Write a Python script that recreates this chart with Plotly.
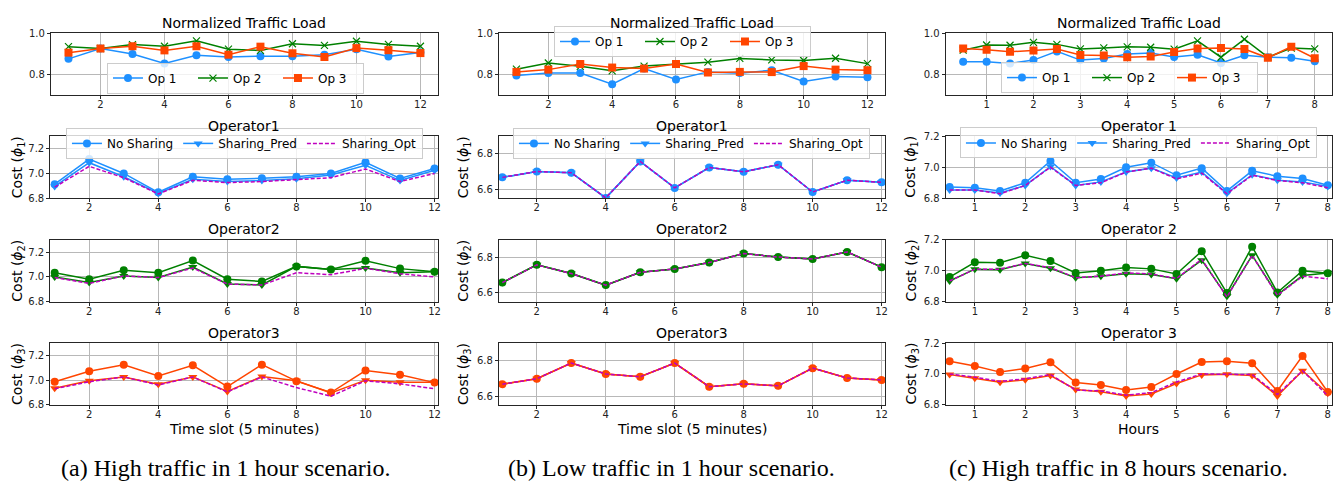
import plotly.graph_objects as go

W, H = 1342, 485

# ---------------- data ----------------
x_a = [1, 2, 3, 4, 5, 6, 7, 8, 9, 10, 11, 12]
x_b = [1, 2, 3, 4, 5, 6, 7, 8, 9, 10, 11, 12]
x_c = [0.5, 1, 1.5, 2, 2.5, 3, 3.5, 4, 4.5, 5, 5.5, 6, 6.5, 7, 7.5, 8]

# (a) High traffic in 1 hour
a_load_op1 = [0.875, 0.925, 0.898, 0.853, 0.892, 0.884, 0.888, 0.888, 0.895, 0.922, 0.886, 0.906]
a_load_op2 = [0.934, 0.925, 0.944, 0.936, 0.962, 0.922, 0.916, 0.948, 0.940, 0.960, 0.945, 0.936]
a_load_op3 = [0.905, 0.925, 0.936, 0.916, 0.936, 0.895, 0.934, 0.902, 0.884, 0.927, 0.917, 0.903]

a_op1_nosh = [6.914, 7.115, 7.000, 6.849, 6.974, 6.953, 6.961, 6.974, 7.000, 7.090, 6.960, 7.040]
a_op1_pred = [6.896, 7.086, 6.974, 6.840, 6.953, 6.935, 6.943, 6.958, 6.987, 7.065, 6.943, 7.026]
a_op1_opt = [6.890, 7.057, 6.966, 6.836, 6.945, 6.927, 6.935, 6.948, 6.966, 7.036, 6.935, 7.000]

a_op2_nosh = [7.034, 6.982, 7.054, 7.034, 7.132, 6.982, 6.964, 7.085, 7.060, 7.130, 7.067, 7.041]
a_op2_pred = [7.000, 6.956, 7.008, 6.995, 7.080, 6.943, 6.935, 7.085, 7.060, 7.072, 7.034, 7.041]
a_op2_opt = [6.995, 6.948, 7.008, 6.995, 7.072, 6.943, 6.935, 7.034, 7.018, 7.070, 7.026, 7.000]

a_op3_nosh = [6.987, 7.072, 7.125, 7.033, 7.120, 6.948, 7.125, 6.992, 6.900, 7.078, 7.044, 6.980]
a_op3_pred = [6.935, 6.995, 7.026, 6.966, 7.026, 6.909, 7.030, 6.995, 6.896, 7.000, 6.982, 6.982]
a_op3_opt = [6.930, 6.987, 7.026, 6.961, 7.026, 6.905, 7.026, 6.940, 6.870, 6.995, 6.970, 6.930]

# (b) Low traffic in 1 hour
b_load_op1 = [0.794, 0.806, 0.806, 0.752, 0.828, 0.775, 0.812, 0.806, 0.820, 0.766, 0.790, 0.786]
b_load_op2 = [0.825, 0.855, 0.839, 0.817, 0.840, 0.848, 0.859, 0.877, 0.870, 0.867, 0.878, 0.852]
b_load_op3 = [0.812, 0.823, 0.850, 0.833, 0.828, 0.850, 0.809, 0.812, 0.811, 0.840, 0.823, 0.820]

b_op1_nosh = [6.668, 6.701, 6.694, 6.553, 6.757, 6.609, 6.723, 6.699, 6.739, 6.586, 6.652, 6.640]
b_op1_pred = [6.668, 6.701, 6.694, 6.553, 6.757, 6.609, 6.723, 6.699, 6.739, 6.586, 6.652, 6.640]
b_op1_opt = [6.668, 6.701, 6.694, 6.553, 6.757, 6.609, 6.723, 6.699, 6.739, 6.586, 6.652, 6.640]

b_op2_nosh = [6.658, 6.758, 6.709, 6.644, 6.716, 6.735, 6.771, 6.822, 6.802, 6.791, 6.831, 6.745]
b_op2_pred = [6.658, 6.758, 6.709, 6.644, 6.716, 6.735, 6.771, 6.822, 6.802, 6.791, 6.831, 6.745]
b_op2_opt = [6.658, 6.758, 6.709, 6.644, 6.716, 6.735, 6.771, 6.822, 6.802, 6.791, 6.831, 6.745]

b_op3_nosh = [6.667, 6.698, 6.787, 6.725, 6.709, 6.787, 6.653, 6.669, 6.658, 6.758, 6.702, 6.691]
b_op3_pred = [6.667, 6.698, 6.787, 6.725, 6.709, 6.787, 6.653, 6.669, 6.658, 6.758, 6.702, 6.691]
b_op3_opt = [6.667, 6.698, 6.787, 6.725, 6.709, 6.787, 6.653, 6.669, 6.658, 6.758, 6.702, 6.691]

# (c) High traffic in 8 hours
c_load_op1 = [0.861, 0.861, 0.853, 0.869, 0.911, 0.869, 0.877, 0.898, 0.903, 0.884, 0.895, 0.855, 0.892, 0.883, 0.880, 0.864]
c_load_op2 = [0.917, 0.942, 0.941, 0.955, 0.945, 0.923, 0.928, 0.933, 0.931, 0.922, 0.962, 0.883, 0.970, 0.883, 0.927, 0.923]
c_load_op3 = [0.925, 0.919, 0.909, 0.916, 0.923, 0.894, 0.891, 0.883, 0.886, 0.908, 0.925, 0.927, 0.923, 0.880, 0.934, 0.878]

c_op1_nosh = [6.873, 6.869, 6.848, 6.900, 7.040, 6.900, 6.925, 7.000, 7.029, 6.948, 6.994, 6.848, 6.977, 6.942, 6.927, 6.885]
c_op1_pred = [6.854, 6.854, 6.835, 6.883, 7.004, 6.883, 6.906, 6.969, 6.994, 6.931, 6.969, 6.833, 6.952, 6.917, 6.906, 6.877]
c_op1_opt = [6.854, 6.854, 6.830, 6.883, 7.000, 6.883, 6.900, 6.969, 6.994, 6.925, 6.962, 6.830, 6.948, 6.915, 6.900, 6.869]

c_op2_nosh = [6.959, 7.054, 7.052, 7.099, 7.062, 6.986, 7.000, 7.021, 7.012, 6.979, 7.126, 6.856, 7.155, 6.860, 7.000, 6.984]
c_op2_pred = [6.934, 7.010, 7.006, 7.047, 7.016, 6.955, 6.965, 6.981, 6.975, 6.948, 7.068, 6.835, 7.099, 6.845, 6.969, 6.986]
c_op2_opt = [6.934, 7.010, 7.010, 7.047, 7.020, 6.955, 6.965, 6.986, 6.979, 6.950, 7.074, 6.831, 7.099, 6.841, 6.965, 6.948]

c_op3_nosh = [7.083, 7.052, 7.012, 7.035, 7.075, 6.944, 6.929, 6.896, 6.915, 7.000, 7.077, 7.083, 7.069, 6.890, 7.117, 6.883]
c_op3_pred = [6.996, 6.973, 6.946, 6.963, 6.990, 6.900, 6.885, 6.858, 6.871, 6.938, 6.994, 6.998, 6.990, 6.858, 7.021, 6.875]
c_op3_opt = [7.000, 6.979, 6.952, 6.969, 6.996, 6.896, 6.890, 6.863, 6.879, 6.948, 7.000, 7.000, 6.996, 6.867, 7.021, 6.858]

load_names = ["Op 1", "Op 2", "Op 3"]
cost_names = ["No Sharing", "Sharing_Pred", "Sharing_Opt"]
row_titles = [
    ["Normalized Traffic Load", "Operator1", "Operator2", "Operator3"],
    ["Normalized Traffic Load", "Operator1", "Operator2", "Operator3"],
    ["Normalized Traffic Load", "Operator 1", "Operator 2", "Operator 3"],
]
x_titles = ["Time slot (5 minutes)", "Time slot (5 minutes)", "Hours"]
captions = ["(a) High traffic in 1 hour scenario.",
            "(b) Low traffic in 1 hour scenario.",
            "(c) High traffic in 8 hours scenario."]
y_titles = ["Cost (<i>ϕ</i><sub>1</sub>)", "Cost (<i>ϕ</i><sub>2</sub>)", "Cost (<i>ϕ</i><sub>3</sub>)"]

xs = [x_a, x_b, x_c]
loads = [[a_load_op1, a_load_op2, a_load_op3],
         [b_load_op1, b_load_op2, b_load_op3],
         [c_load_op1, c_load_op2, c_load_op3]]
costs = [
    [[a_op1_nosh, a_op1_pred, a_op1_opt], [a_op2_nosh, a_op2_pred, a_op2_opt], [a_op3_nosh, a_op3_pred, a_op3_opt]],
    [[b_op1_nosh, b_op1_pred, b_op1_opt], [b_op2_nosh, b_op2_pred, b_op2_opt], [b_op3_nosh, b_op3_pred, b_op3_opt]],
    [[c_op1_nosh, c_op1_pred, c_op1_opt], [c_op2_nosh, c_op2_pred, c_op2_opt], [c_op3_nosh, c_op3_pred, c_op3_opt]],
]

# ---------------- styling / geometry ----------------
BLUE, GREEN, ORANGE, MAGENTA = "#1E90FF", "#008000", "#FF4500", "#BF00BF"
op_colors = [BLUE, GREEN, ORANGE]
FONT = "DejaVu Sans"
FRAME = "#262626"
GRID = "#b8b8b8"

col_px_row1 = [[51, 439], [500, 887], [947.7, 1335.3]]
col_px_rest = [[50.3, 439], [500, 887], [947.7, 1335.3]]
row_px = [[27.7, 91.3], [133.3, 197.3], [239.6, 303.3], [345.6, 409]]

x_range_row1 = [[0.45, 12.55], [0.45, 12.55], [0.125, 8.375]]
x_range_rest = [[0.87, 12.1], [0.9, 12.1], [0.42, 8.09]]
x_ticks = [[2, 4, 6, 8, 10, 12], [2, 4, 6, 8, 10, 12], [1, 2, 3, 4, 5, 6, 7, 8]]
y_range_rest = [[6.8, 7.3], [6.55, 6.9], [6.8, 7.2]]


def fx(p):
    return p / W


def fy(p):
    return 1 - p / H


fig = go.Figure()
layout = dict(
    width=W, height=H, margin=dict(l=0, r=0, t=0, b=0),
    paper_bgcolor="white", plot_bgcolor="white",
    font=dict(family=FONT, size=10, color="#222"),
    showlegend=True,
)
annotations = []

for r in range(4):
    for c in range(3):
        k = r * 3 + c + 1
        xp = col_px_row1[c] if r == 0 else col_px_rest[c]
        yp = row_px[r]
        xr = x_range_row1[c] if r == 0 else x_range_rest[c]
        if r == 0:
            yr, ytv = [0.7, 1.0], [0.8, 1.0]
        else:
            yr = y_range_rest[c]
            ytv = [6.6, 6.8] if c == 1 else [6.8, 7.0, 7.2]
        common = dict(showline=True, mirror=True, linecolor=FRAME, linewidth=1,
                      showgrid=True, gridcolor=GRID, gridwidth=1, zeroline=False,
                      ticks="outside", ticklen=3, tickwidth=1, tickcolor=FRAME,
                      tickfont=dict(family=FONT, size=10, color="#222"))
        layout[f"xaxis{k}"] = dict(domain=[fx(xp[0]), fx(xp[1])], anchor=f"y{k}", range=xr,
                                   tickmode="array", tickvals=x_ticks[c], ticklabelstandoff=-3, **common)
        layout[f"yaxis{k}"] = dict(domain=[fy(yp[1]), fy(yp[0])], anchor=f"x{k}", range=yr,
                                   tickmode="array", tickvals=ytv, tickformat=".1f", **common)
        # subplot title
        annotations.append(dict(text=row_titles[c][r], x=fx((xp[0] + xp[1]) / 2), y=fy(yp[0] - 10.5),
                                xref="paper", yref="paper", xanchor="center", yanchor="middle",
                                showarrow=False, font=dict(family=FONT, size=14, color="black")))
        if r > 0:
            ycx = [18, 465, 913.7][c]
            annotations.append(dict(text=y_titles[r - 1], x=fx(ycx), y=fy((yp[0] + yp[1]) / 2),
                                    xref="paper", yref="paper", xanchor="center", yanchor="middle",
                                    textangle=-90, showarrow=False,
                                    font=dict(family=FONT, size=14, color="black")))

        xa = f"x{k}"
        ya = f"y{k}"
        if r == 0:
            lg = "legend" if c == 0 else f"legend{c + 1}"
            symbols = ["circle", "x-thin", "square"]
            for i in range(3):
                if i == 1:
                    mk = dict(symbol="x-thin", size=7, color=GREEN, line=dict(width=1.2, color=GREEN))
                else:
                    mk = dict(symbol=symbols[i], size=8, color=op_colors[i], line=dict(width=0))
                fig.add_trace(go.Scatter(x=xs[c], y=loads[c][i], mode="lines+markers", name=load_names[i],
                                         line=dict(color=op_colors[i], width=1.5), marker=mk,
                                         xaxis=xa, yaxis=ya, legend=lg, showlegend=True))
        else:
            op = r - 1
            col = op_colors[op]
            lg = f"legend{c + 4}"
            show = (r == 1)
            series = costs[c][op]
            fig.add_trace(go.Scatter(x=xs[c], y=series[0], mode="lines+markers", name=cost_names[0],
                                     line=dict(color=col, width=1.5),
                                     marker=dict(symbol="circle", size=8, color=col, line=dict(width=0)),
                                     xaxis=xa, yaxis=ya, legend=lg, showlegend=show))
            fig.add_trace(go.Scatter(x=xs[c], y=series[1], mode="lines+markers", name=cost_names[1],
                                     line=dict(color=col, width=1.5),
                                     marker=dict(symbol="triangle-down", size=8, color=col, line=dict(width=0)),
                                     xaxis=xa, yaxis=ya, legend=lg, showlegend=show))
            fig.add_trace(go.Scatter(x=xs[c], y=series[2], mode="lines", name=cost_names[2],
                                     line=dict(color=MAGENTA, width=1.5, dash="4px,2px"),
                                     xaxis=xa, yaxis=ya, legend=lg, showlegend=show))

# x titles and captions
for c in range(3):
    xp = col_px_rest[c]
    annotations.append(dict(text=x_titles[c], x=fx((xp[0] + xp[1]) / 2), y=fy(433.5),
                            xref="paper", yref="paper", xanchor="center", yanchor="middle",
                            showarrow=False, font=dict(family=FONT, size=14, color="black")))
    annotations.append(dict(text=captions[c], x=fx([226, 673.5, 1121][c]), y=fy(474),
                            xref="paper", yref="paper", xanchor="center", yanchor="middle",
                            showarrow=False, font=dict(family="Liberation Serif", size=24, color="black")))

# legends
leg_pos = [(236, 58), (684, 20.5), (1132, 57.5), (245, 125), (693, 125), (1141, 124.5)]
for i, (lx, ly) in enumerate(leg_pos):
    name = "legend" if i == 0 else f"legend{i + 1}"
    layout[name] = dict(x=fx(lx), y=fy(ly), xref="paper", yref="paper", xanchor="center", yanchor="top",
                        orientation="h", bgcolor="rgba(255,255,255,0.8)", bordercolor="#cccccc",
                        borderwidth=1, font=dict(family=FONT, size=12, color="black"),
                        itemwidth=30, tracegroupgap=0,
                        entrywidth=(40 if i < 3 else 0))

layout["annotations"] = annotations
fig.update_layout(**layout)
fig.write_html("out.html")
